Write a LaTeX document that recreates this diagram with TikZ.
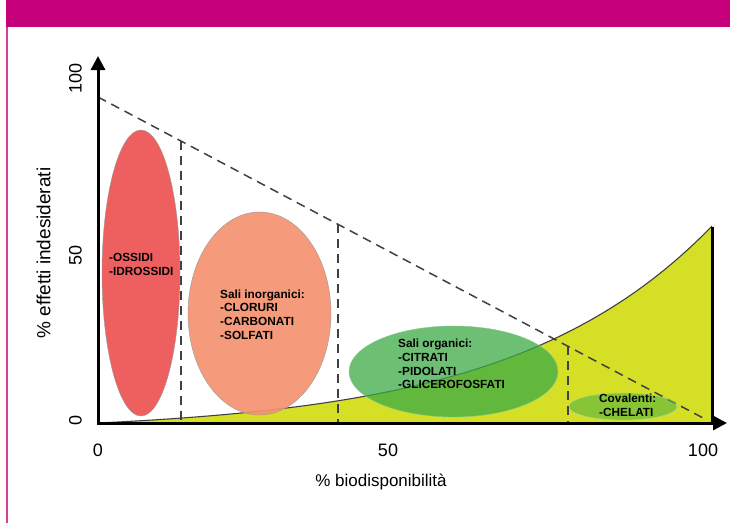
\documentclass[tikz,border=0pt]{standalone}
\usepackage{fontspec}
\setmainfont{Liberation Sans}
\usetikzlibrary{arrows.meta,shapes.geometric}

\definecolor{bandmagenta}{RGB}{197,0,122}
\definecolor{areayellow}{RGB}{212,223,38}
\definecolor{oxidered}{RGB}{238,96,96}
\definecolor{inorgorange}{RGB}{244,146,112}
\definecolor{orggreen}{RGB}{60,170,70}

\begin{document}
\begin{tikzpicture}[x=1pt,y=-1pt,
salt/.style={ellipse,draw=black!40,thin,inner sep=0pt},
saltlabel/.style={anchor=west,inner sep=0pt,align=left,
  font=\fontsize{11.8}{13.6}\selectfont\bfseries},
axis/.style={line width=3pt,line join=miter},
guide/.style={dash pattern=on 9pt off 6pt,line width=1.5pt,black!75},
tick/.style={font=\fontsize{18}{18}\selectfont}
]
\useasboundingbox (0,0) rectangle (730,523);

% header band and frame
\fill[bandmagenta] (6,0) rectangle (730,27);
\draw[bandmagenta!75,line width=1.5pt] (7,27) -- (7,523);

% area under the curve
\fill[areayellow] (98,423)
  -- plot[domain=0:614,samples=80] ({98+\x},{423-9.56*(exp(0.005*\x)-1)})
  -- (712,423) -- cycle;
\draw[black!75,line width=1.1pt]
  plot[domain=0:614,samples=80] ({98+\x},{423-9.56*(exp(0.005*\x)-1)});

% dashed guides
\coordinate (dstart) at (98,97);
\coordinate (dend) at (705,419);
\coordinate (g1) at (181,141);
\coordinate (g2) at (338,224);
\coordinate (g3) at (568,346);
\coordinate (g1b) at (181,423);
\coordinate (g2b) at (338,423);
\coordinate (g3b) at (568,423);
\draw[guide] (dstart) -- (dend);
\draw[guide] (g1) -- (g1b);
\draw[guide] (g2) -- (g2b);
\draw[guide] (g3) -- (g3b);

% salt classes
\node (oxides) [salt,fill=oxidered,minimum width=78pt,minimum height=286pt] at (141,273) {};
\node (inorg) [salt,fill=inorgorange,fill opacity=0.92,minimum width=143pt,minimum height=203pt] at (259.5,313.5) {};
\node (org) [salt,fill=orggreen,fill opacity=0.75,draw=orggreen!60,minimum width=209pt,minimum height=91pt] at (453.5,371.5) {};
\node (coval) [salt,fill=orggreen,fill opacity=0.5,draw=orggreen!50,minimum width=108pt,minimum height=27pt] at (623,406.5) {};

\node (oxtext) [saltlabel] at (109,264.5) {-OSSIDI\\-IDROSSIDI};
\node (inorgtext) [saltlabel] at (220,314.5) {Sali inorganici:\\-CLORURI\\-CARBONATI\\-SOLFATI};
\node (orgtext) [saltlabel] at (398,364) {Sali organici:\\-CITRATI\\-PIDOLATI\\-GLICEROFOSFATI};
\node (covtext) [saltlabel] at (599,405) {Covalenti:\\-CHELATI};

% axes
\coordinate (origin) at (98,423);
\coordinate (ytop) at (98,56);
\coordinate (xend) at (727,423);
\coordinate (edgetop) at (712,227);
\coordinate (edgebot) at (712,423);
\draw[axis] (edgetop) -- (edgebot);
\draw[axis,{Triangle[length=14pt,width=14pt]}-{Triangle[length=14pt,width=14pt]}]
  (ytop) -- (origin) -- (xend);

% scale labels
\node (y100) [tick,rotate=90] at (75.5,78) {100};
\node (y50) [tick,rotate=90] at (75.5,255) {50};
\node (y0) [tick,rotate=90] at (75.5,420) {0};
\node (x0) [tick] at (98,450) {0};
\node (x50) [tick] at (388,450) {50};
\node (x100) [tick] at (703,450) {100};

\node (ylabel) [rotate=90,font=\fontsize{19}{19}\selectfont] at (43.5,253) {\% effetti indesiderati};
\node (xlabel) [font=\fontsize{17}{17}\selectfont] at (381,482) {\% biodisponibilità};
\end{tikzpicture}
\end{document}
